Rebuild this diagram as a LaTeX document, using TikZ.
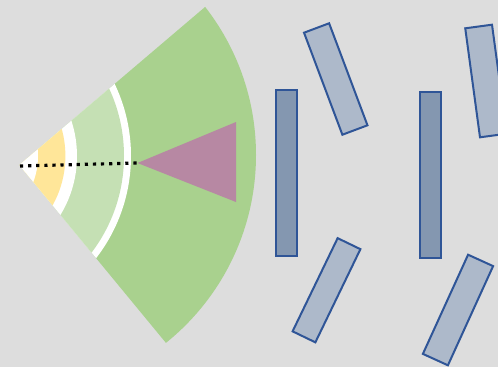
\documentclass[tikz,border=0pt]{standalone}
\definecolor{bg}{HTML}{DDDDDD}
\definecolor{dgreen}{HTML}{A9D18E}
\definecolor{lgreen}{HTML}{C5E0B4}
\definecolor{yel}{HTML}{FFE699}
\definecolor{purp}{HTML}{B788A3}
\definecolor{bdark}{HTML}{8497B0}
\definecolor{blight}{HTML}{ADB9CA}
\definecolor{bline}{HTML}{2F5597}
\tikzset{
  slab/.style={draw=bline, line width=2pt, inner sep=0pt, outer sep=0pt, rectangle},
  darkslab/.style={slab, fill=bdark},
  lightslab/.style={slab, fill=blight},
  dotline/.style={line width=3.2pt, dash pattern=on 3.2pt off 4.9pt, black}
}
\begin{document}
\begin{tikzpicture}[x=1pt,y=-1pt]
\fill[bg] (0,0) rectangle (498,367);
\useasboundingbox (0,0) rectangle (498,367);
\clip (0,0) rectangle (498,367);
\coordinate (apex) at (19.3,165);
\coordinate (ctr) at (-36,156);
\coordinate (tip) at (137.5,163);
% sector
\begin{scope}
  \clip (apex) -- (297.9,-72) -- (700,-72) -- (700,432) -- (239.4,432) -- cycle;
  \fill[dgreen] (15,155) circle[radius=241pt];
  \fill[white] (ctr) circle[radius=167pt];
  \fill[lgreen] (ctr) circle[radius=160pt];
  \fill[white] (ctr) circle[radius=113pt];
  \fill[yel] (ctr) circle[radius=101.4pt];
  \fill[white] (ctr) circle[radius=74pt];
\end{scope}
% triangle
\fill[purp] (tip) -- (236,122) -- (236,202) -- cycle;
% dotted line
\coordinate (dstart) at (20,166);
\draw[dotline] (dstart) -- (tip);
% slabs
\node[darkslab, minimum width=20.7pt, minimum height=166pt] (r1) at (286.3,172.7) {};
\node[darkslab, minimum width=21pt, minimum height=165.7pt] (r2) at (430.5,175.2) {};
\node[lightslab, minimum width=26.8pt, minimum height=109pt, rotate=20.6] (r3) at (335.75,79) {};
\node[lightslab, minimum width=27pt, minimum height=110pt, rotate=7.7] (r4) at (486,81) {};
\node[lightslab, minimum width=25.3pt, minimum height=103.5pt, rotate=-25.8] (r5) at (326.5,290.25) {};
\node[lightslab, minimum width=27.5pt, minimum height=109pt, rotate=-24.5] (r6) at (458,310) {};
\end{tikzpicture}
\end{document}
